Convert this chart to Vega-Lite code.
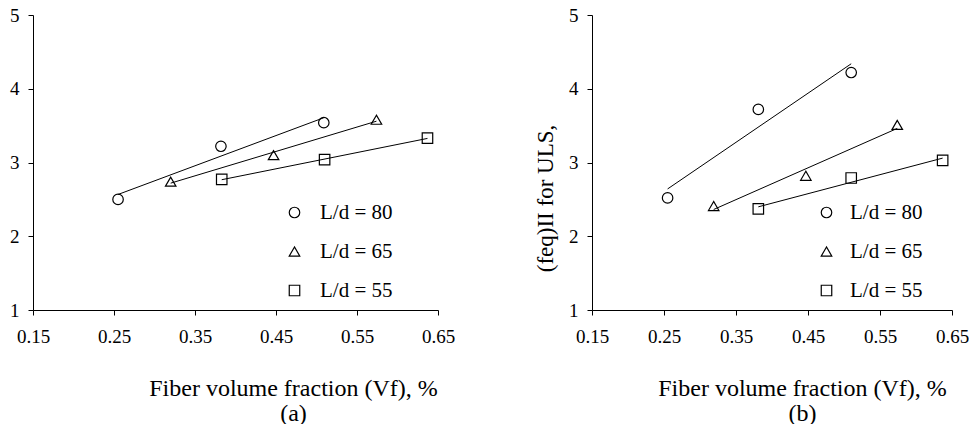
{
  "$schema": "https://vega.github.io/schema/vega-lite/v6.json",
  "background": "white",
  "padding": {"left": 9, "top": 6, "right": 0, "bottom": 0},
  "datasets": {
    "a": [
      {"series": "L/d = 80", "vf": 0.255, "v": 2.50},
      {"series": "L/d = 80", "vf": 0.382, "v": 3.22},
      {"series": "L/d = 80", "vf": 0.509, "v": 3.54},
      {"series": "L/d = 65", "vf": 0.320, "v": 2.74},
      {"series": "L/d = 65", "vf": 0.447, "v": 3.10},
      {"series": "L/d = 65", "vf": 0.574, "v": 3.58},
      {"series": "L/d = 55", "vf": 0.383, "v": 2.77},
      {"series": "L/d = 55", "vf": 0.510, "v": 3.04},
      {"series": "L/d = 55", "vf": 0.637, "v": 3.33}
    ],
    "b": [
      {"series": "L/d = 80", "vf": 0.255, "v": 2.52},
      {"series": "L/d = 80", "vf": 0.381, "v": 3.72},
      {"series": "L/d = 80", "vf": 0.510, "v": 4.22},
      {"series": "L/d = 65", "vf": 0.319, "v": 2.41},
      {"series": "L/d = 65", "vf": 0.447, "v": 2.82},
      {"series": "L/d = 65", "vf": 0.574, "v": 3.51},
      {"series": "L/d = 55", "vf": 0.381, "v": 2.37},
      {"series": "L/d = 55", "vf": 0.510, "v": 2.79},
      {"series": "L/d = 55", "vf": 0.637, "v": 3.03}
    ]
  },
  "config": {
    "view": {"stroke": null},
    "font": "Liberation Serif",
    "axis": {
      "grid": false,
      "domainColor": "black",
      "tickColor": "black",
      "labelColor": "black",
      "titleColor": "black",
      "labelFont": "Liberation Serif",
      "titleFont": "Liberation Serif",
      "titleFontWeight": "normal",
      "tickSize": 5,
      "tickWidth": 1,
      "domainWidth": 1,
      "labelOverlap": false,
      "labelFlush": false
    },
    "legend": {
      "labelFont": "Liberation Serif",
      "labelColor": "black",
      "labelFontSize": 21,
      "symbolStrokeColor": "black",
      "symbolFillColor": "transparent",
      "symbolStrokeWidth": 1.2,
      "symbolSize": 110,
      "rowPadding": 17,
      "padding": 0
    }
  },
  "resolve": {"scale": {"shape": "independent"}, "legend": {"shape": "independent"}},
  "bounds": "flush",
  "spacing": 154,
  "hconcat": [
    {
      "width": 405,
      "height": 295,
      "data": {"name": "a"},
      "layer": [
        {
          "transform": [{"regression": "v", "on": "vf", "groupby": ["series"]}],
          "mark": {"type": "line", "color": "black", "strokeWidth": 1},
          "encoding": {
            "x": {"field": "vf", "type": "quantitative"},
            "y": {"field": "v", "type": "quantitative"},
            "detail": {"field": "series"}
          }
        },
        {
          "mark": {"type": "point", "filled": false, "stroke": "black", "strokeWidth": 1.2, "size": 110, "opacity": 1},
          "encoding": {
            "x": {
              "field": "vf", "type": "quantitative",
              "scale": {"domain": [0.15, 0.65], "nice": false, "zero": false},
              "axis": {
                "values": [0.15, 0.25, 0.35, 0.45, 0.55, 0.65], "format": ".2f",
                "labelFont": "Liberation Serif", "labelFontSize": 19, "labelPadding": 12,
                "title": ["Fiber volume fraction (Vf), %", "(a)"],
                "titleFontSize": 24, "titleX": 260, "titleY": 85,
                "titleAlign": "center", "titleBaseline": "alphabetic", "titleLineHeight": 25
              }
            },
            "y": {
              "field": "v", "type": "quantitative",
              "scale": {"domain": [1, 5], "nice": false, "zero": false},
              "axis": {"values": [1, 2, 3, 4, 5], "format": "d", "labelFont": "Liberation Serif", "labelFontSize": 19, "labelPadding": 9, "title": null}
            },
            "shape": {
              "field": "series", "type": "nominal",
              "scale": {"domain": ["L/d = 80", "L/d = 65", "L/d = 55"], "range": ["circle", "triangle-up", "square"]},
              "legend": {"title": null, "orient": "none", "legendX": 251, "legendY": 187, "labelOffset": 15}
            }
          }
        }
      ]
    },
    {
      "width": 360,
      "height": 295,
      "data": {"name": "b"},
      "layer": [
        {
          "transform": [{"regression": "v", "on": "vf", "groupby": ["series"]}],
          "mark": {"type": "line", "color": "black", "strokeWidth": 1},
          "encoding": {
            "x": {"field": "vf", "type": "quantitative"},
            "y": {"field": "v", "type": "quantitative"},
            "detail": {"field": "series"}
          }
        },
        {
          "mark": {"type": "point", "filled": false, "stroke": "black", "strokeWidth": 1.2, "size": 110, "opacity": 1},
          "encoding": {
            "x": {
              "field": "vf", "type": "quantitative",
              "scale": {"domain": [0.15, 0.65], "nice": false, "zero": false},
              "axis": {
                "values": [0.15, 0.25, 0.35, 0.45, 0.55, 0.65], "format": ".2f",
                "labelFont": "Liberation Serif", "labelFontSize": 19, "labelPadding": 12,
                "title": ["Fiber volume fraction (Vf), %", "(b)"],
                "titleFontSize": 24, "titleX": 210, "titleY": 85,
                "titleAlign": "center", "titleBaseline": "alphabetic", "titleLineHeight": 25
              }
            },
            "y": {
              "field": "v", "type": "quantitative",
              "scale": {"domain": [1, 5], "nice": false, "zero": false},
              "axis": {
                "values": [1, 2, 3, 4, 5], "format": "d", "labelFont": "Liberation Serif", "labelFontSize": 19, "labelPadding": 9,
                "title": "(feq)II for ULS,", "titleFontSize": 23,
                "titleX": -47, "titleY": 183, "titleAngle": -90,
                "titleAlign": "center", "titleBaseline": "middle"
              }
            },
            "shape": {
              "field": "series", "type": "nominal",
              "scale": {"domain": ["L/d = 80", "L/d = 65", "L/d = 55"], "range": ["circle", "triangle-up", "square"]},
              "legend": {"title": null, "orient": "none", "legendX": 224, "legendY": 187, "labelOffset": 13}
            }
          }
        }
      ]
    }
  ]
}
